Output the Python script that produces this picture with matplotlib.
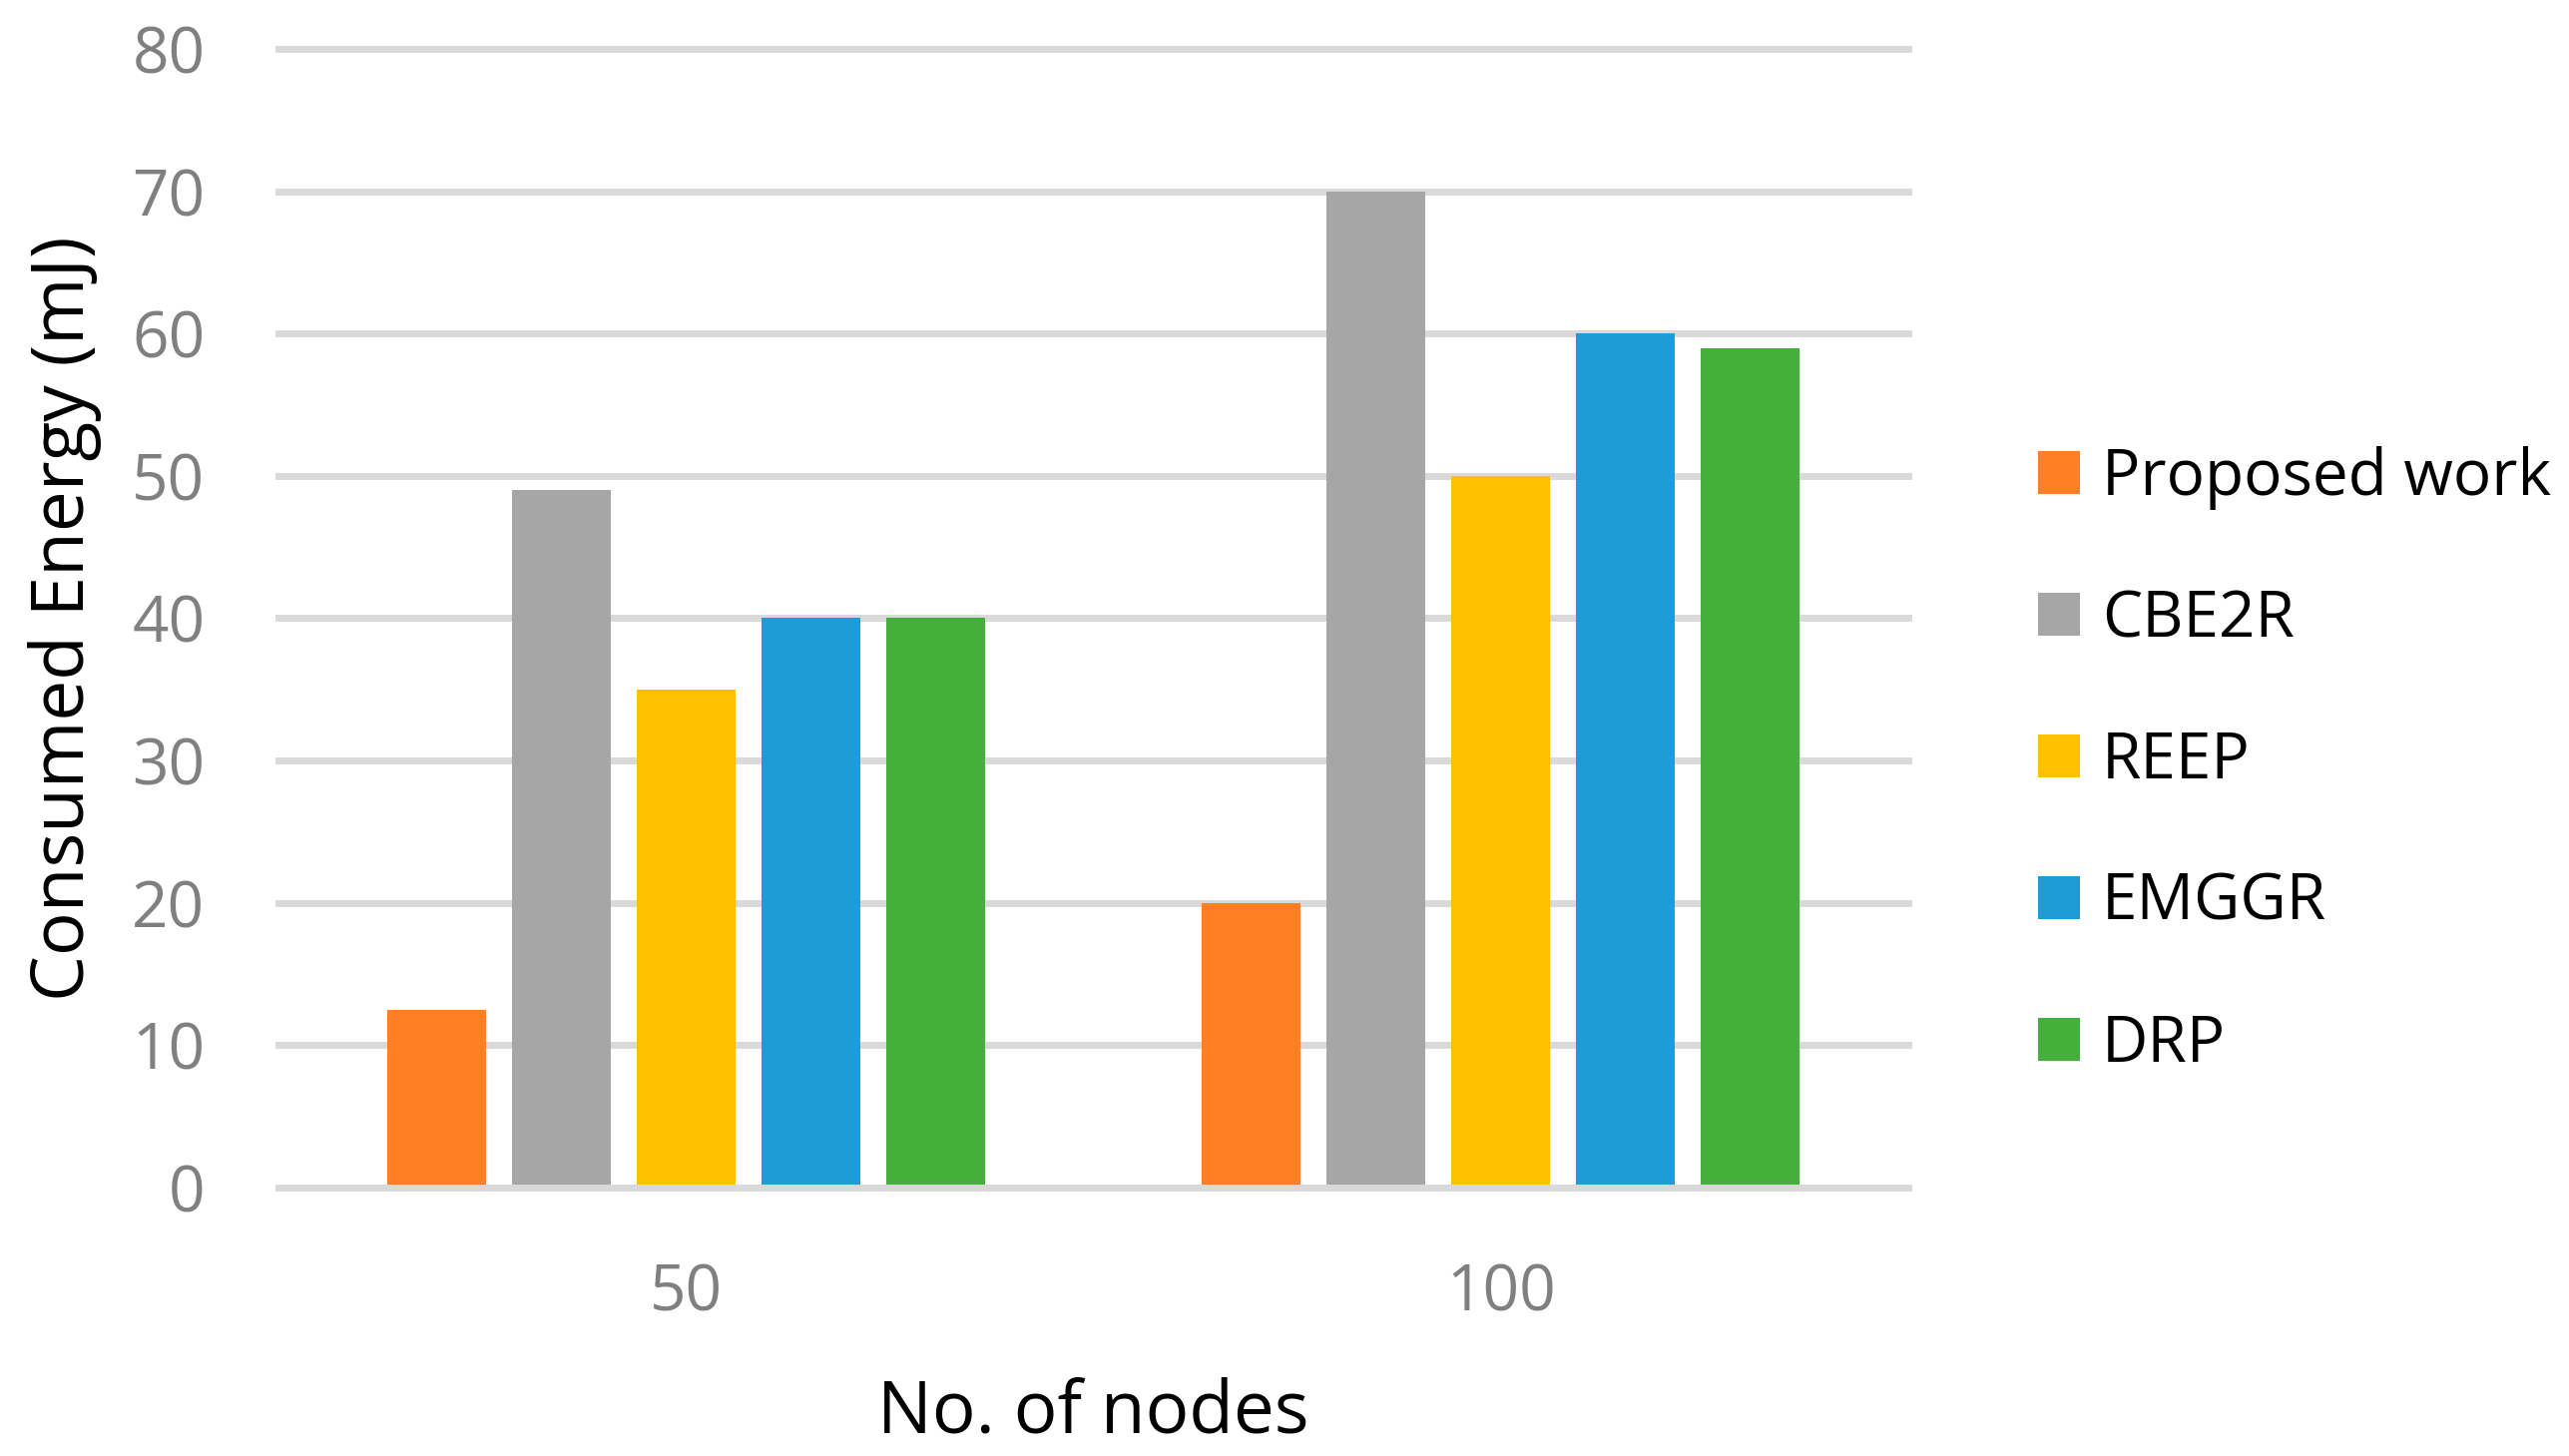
import matplotlib
matplotlib.use("Agg")
import matplotlib.pyplot as plt
import numpy as np
from matplotlib.patches import Patch

plt.rcParams["font.family"] = ["Open Sans", "DejaVu Sans"]

# data
node_counts = ["50", "100"]
series_names = ["Proposed work", "CBE2R", "REEP", "EMGGR", "DRP"]
proposed_work = [12.5, 20]
cbe2r = [49, 70]
reep = [35, 50]
emggr = [40, 60]
drp = [40, 59]
y_ticks = [0, 10, 20, 30, 40, 50, 60, 70, 80]

colors = ["#FF7F27", "#A6A6A6", "#FFC000", "#1E9CD7", "#44B03B"]
series_values = [proposed_work, cbe2r, reep, emggr, drp]

W, H = 2574, 1459
fig = plt.figure(figsize=(W / 100, H / 100), dpi=100)
ax = fig.add_axes([279 / W, (H - 1190) / H, (1912 - 279) / W, (1190 - 49) / H])

x = np.arange(len(node_counts))
bar_w = 0.1213
step = 0.1531
for i, (vals, col) in enumerate(zip(series_values, colors)):
    ax.bar(x + (i - 2) * step, vals, width=bar_w, color=col, zorder=2)

ax.set_xlim(-0.5, 1.5)
ax.set_ylim(0, 80)
ax.set_yticks(y_ticks)
ax.set_xticks(x)
ax.set_xticklabels(node_counts)

grid_c = "#D9D9D9"
ax.set_axisbelow(True)
ax.yaxis.grid(True, color=grid_c, linewidth=5)
for gl in ax.get_ygridlines():
    gl.set_clip_on(False)
for s in ["top", "left", "right"]:
    ax.spines[s].set_visible(False)
ax.spines["bottom"].set_color(grid_c)
ax.spines["bottom"].set_linewidth(5)
ax.spines["bottom"].set_zorder(3)

ax.tick_params(axis="both", length=0, labelsize=46, colors="#808080")
ax.tick_params(axis="y", pad=53)
ax.tick_params(axis="x", pad=54)

fig.text(65 / W, (H - 620) / H, "Consumed Energy (mJ)", rotation=90,
         ha="center", va="center", fontsize=52.5)
fig.text(1095 / W, (H - 1416) / H, "No. of nodes",
         ha="center", va="center", fontsize=52.5)

handles = [Patch(facecolor=c, edgecolor="none") for c in colors]
fig.legend(handles, series_names, loc="center left",
           bbox_to_anchor=(2042 / W, (H - 763) / H),
           frameon=False, fontsize=46, handlelength=0.66, handleheight=0.66,
           handletextpad=0.34, labelspacing=1.22, borderpad=0, borderaxespad=0)

fig.savefig("out.png", dpi=100)
